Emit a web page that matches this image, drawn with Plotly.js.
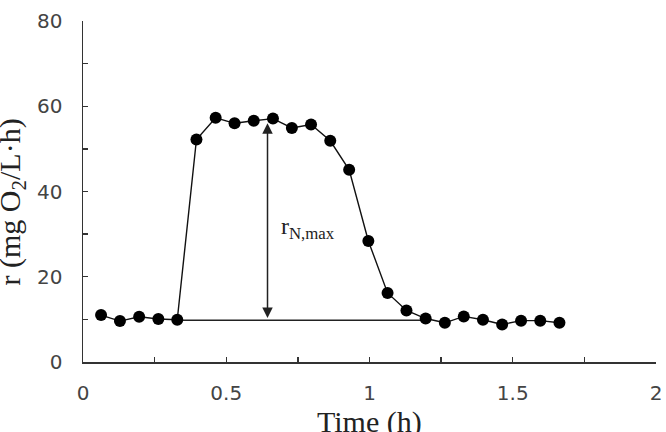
<!DOCTYPE html>
<html>
<head>
<meta charset="utf-8">
<script src="https://cdn.plot.ly/plotly-3.0.1.min.js"></script>
<style>html,body{margin:0;padding:0;background:#fff;}#chart{width:666px;height:432px;}</style>
</head>
<body>
<div id="chart"></div>
<script>
// Data
const timeH = [0.063, 0.129, 0.196, 0.263, 0.329, 0.396, 0.463, 0.529, 0.596, 0.663,
               0.729, 0.796, 0.863, 0.929, 0.996, 1.063, 1.129, 1.196, 1.263, 1.329,
               1.396, 1.463, 1.529, 1.596, 1.663];
const rateR = [11.0, 9.6, 10.6, 10.1, 9.9, 52.2, 57.3, 56.0, 56.6, 57.1,
               54.9, 55.7, 51.9, 45.1, 28.4, 16.2, 12.1, 10.2, 9.2, 10.7,
               9.9, 8.8, 9.7, 9.7, 9.2];
const baselineX = [0.329, 1.2];
const baselineY = [9.8, 9.8];
const arrowX = 0.644;
const arrowTopY = 56;
const arrowBottomY = 10;
const labelX = 0.786;
const labelY = 31.5;

const traces = [
  {
    x: baselineX, y: baselineY, type: 'scatter', mode: 'lines',
    line: {color: '#222', width: 1.5}, hoverinfo: 'skip', showlegend: false
  },
  {
    x: timeH, y: rateR, type: 'scatter', mode: 'lines+markers',
    line: {color: '#111', width: 1.4},
    marker: {color: '#000', size: 12, line: {width: 0}},
    showlegend: false
  }
];

const tickFont = {family: 'DejaVu Sans, sans-serif', size: 20, color: '#444'};

const layout = {
  width: 666, height: 432,
  margin: {l: 83, r: 10, t: 21, b: 70, pad: 0},
  paper_bgcolor: '#fff', plot_bgcolor: '#fff',
  showlegend: false,
  xaxis: {
    range: [0, 2], dtick: 0.5, tick0: 0,
    showline: true, linecolor: '#333', linewidth: 1.5,
    ticks: 'inside', ticklen: 5, tickwidth: 1.3, tickcolor: '#333',
    minor: {dtick: 0.25, ticks: 'inside', ticklen: 5, tickwidth: 1.3, tickcolor: '#333'},
    showgrid: false, zeroline: false,
    tickfont: tickFont, ticklabelstandoff: 12
  },
  yaxis: {
    range: [0, 80], dtick: 20, tick0: 0,
    showline: true, linecolor: '#333', linewidth: 1.5,
    ticks: 'inside', ticklen: 5, tickwidth: 1.3, tickcolor: '#333',
    minor: {dtick: 10, ticks: 'inside', ticklen: 5, tickwidth: 1.3, tickcolor: '#333'},
    showgrid: false, zeroline: false,
    tickfont: tickFont, ticklabelstandoff: 15
  },
  annotations: [
    {
      x: arrowX, y: arrowTopY, ax: arrowX, ay: arrowBottomY,
      xref: 'x', yref: 'y', axref: 'x', ayref: 'y',
      text: '', showarrow: true, arrowside: 'end+start',
      arrowhead: 2, arrowsize: 1.4, arrowwidth: 1.5, arrowcolor: '#222',
      standoff: 0, startstandoff: 0
    },
    {
      x: labelX, y: labelY, xref: 'x', yref: 'y', showarrow: false,
      text: 'r<sub>N,max</sub>',
      font: {family: 'Liberation Serif, Times New Roman, serif', size: 24, color: '#222'}
    },
    {
      x: 0.5, y: 0, xref: 'paper', yref: 'paper', yanchor: 'top', xanchor: 'center',
      yshift: -41, showarrow: false, text: 'Time (h)',
      font: {family: 'Liberation Serif, Times New Roman, serif', size: 30, color: '#222'}
    },
    {
      x: 0, y: 0.5, xref: 'paper', yref: 'paper', xanchor: 'center', yanchor: 'middle',
      xshift: -72, yshift: -11, textangle: -90, showarrow: false,
      text: 'r (mg O<sub>2</sub>/L·h)',
      font: {family: 'Liberation Serif, Times New Roman, serif', size: 30, color: '#222'}
    }
  ]
};

Plotly.newPlot('chart', traces, layout, {staticPlot: true, displayModeBar: false});
</script>
</body>
</html>
